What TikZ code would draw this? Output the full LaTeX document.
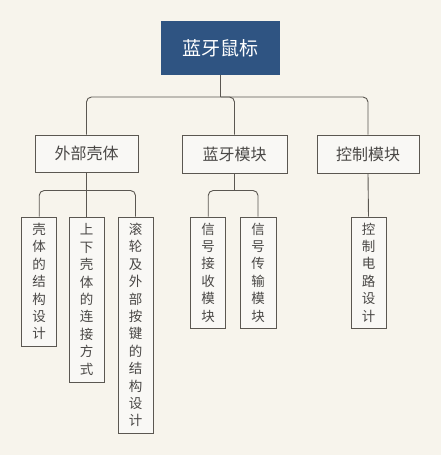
\documentclass[tikz,border=0pt]{standalone}
\usepackage{fontspec}
\setmainfont{Noto Sans CJK SC}
\definecolor{bgc}{HTML}{F7F4EC}
\definecolor{linec}{HTML}{5B5751}
\definecolor{boxc}{HTML}{F9F8F5}
\definecolor{rootc}{HTML}{2F5482}
\definecolor{txtc}{HTML}{4A4846}
\tikzset{
  conn/.style={draw=linec, line width=0.9pt, rounded corners=5pt},
  rootbox/.style={fill=rootc, draw=none, minimum width=119pt, minimum height=54pt, inner sep=0pt,
    text=white, font=\fontsize{19}{22}\selectfont},
  lvlone/.style={fill=boxc, draw=linec, line width=0.9pt, inner sep=0pt,
    text=txtc, font=\fontsize{16}{19}\selectfont},
  vbox/.style={fill=boxc, draw=linec, line width=0.9pt, inner sep=0pt, minimum width=35pt,
    text=txtc, align=center, font=\fontsize{13.5}{17.4}\selectfont},
}
\begin{document}
\begin{tikzpicture}[x=1pt, y=-1pt]
\fill[bgc] (0,0) rectangle (441,455);
\useasboundingbox (0,0) rectangle (441,455);

\node[rootbox] (root) at (220.5,48) {蓝牙鼠标};

\node[lvlone, minimum width=103pt, minimum height=37pt] (a) at (86.5,153.5) {外部壳体};
\node[lvlone, minimum width=105pt, minimum height=38pt] (b) at (234.5,154) {蓝牙模块};
\node[lvlone, minimum width=102pt, minimum height=38pt] (c) at (368,154) {控制模块};

\node[vbox, minimum height=129pt] (a1) at (39.2,281.5) {壳\\体\\的\\结\\构\\设\\计};
\node[vbox, minimum height=165pt] (a2) at (86.5,299.5) {上\\下\\壳\\体\\的\\连\\接\\方\\式};
\node[vbox, minimum height=216pt] (a3) at (135.5,325) {滚\\轮\\及\\外\\部\\按\\键\\的\\结\\构\\设\\计};
\node[vbox, minimum height=111pt] (b1) at (208.2,272.5) {信\\号\\接\\收\\模\\块};
\node[vbox, minimum height=111pt, minimum width=36pt] (b2) at (258,272.5) {信\\号\\传\\输\\模\\块};
\node[vbox, minimum height=111pt] (c1) at (368.5,272.5) {控\\制\\电\\路\\设\\计};

\coordinate (busr) at (root.south |- 0,97);
\draw[conn] (root.south) -- (busr);
\draw[conn] (busr) -| (a.north);
\draw[conn] (busr) -| (b.north);
\draw[conn] (busr) -| (c.north);

\coordinate (busa) at (a.south |- 0,190.5);
\draw[conn] (a.south) -- (busa);
\draw[conn] (busa) -| (a1.north);
\draw[conn] (busa) -- (a2.north);
\draw[conn] (busa) -| (a3.north);

\coordinate (busb) at (b.south |- 0,190.5);
\draw[conn] (b.south) -- (busb);
\draw[conn] (busb) -| (b1.north);
\draw[conn] (busb) -| (b2.north);

\draw[conn] (c.south) -- (c1.north);
\end{tikzpicture}
\end{document}
